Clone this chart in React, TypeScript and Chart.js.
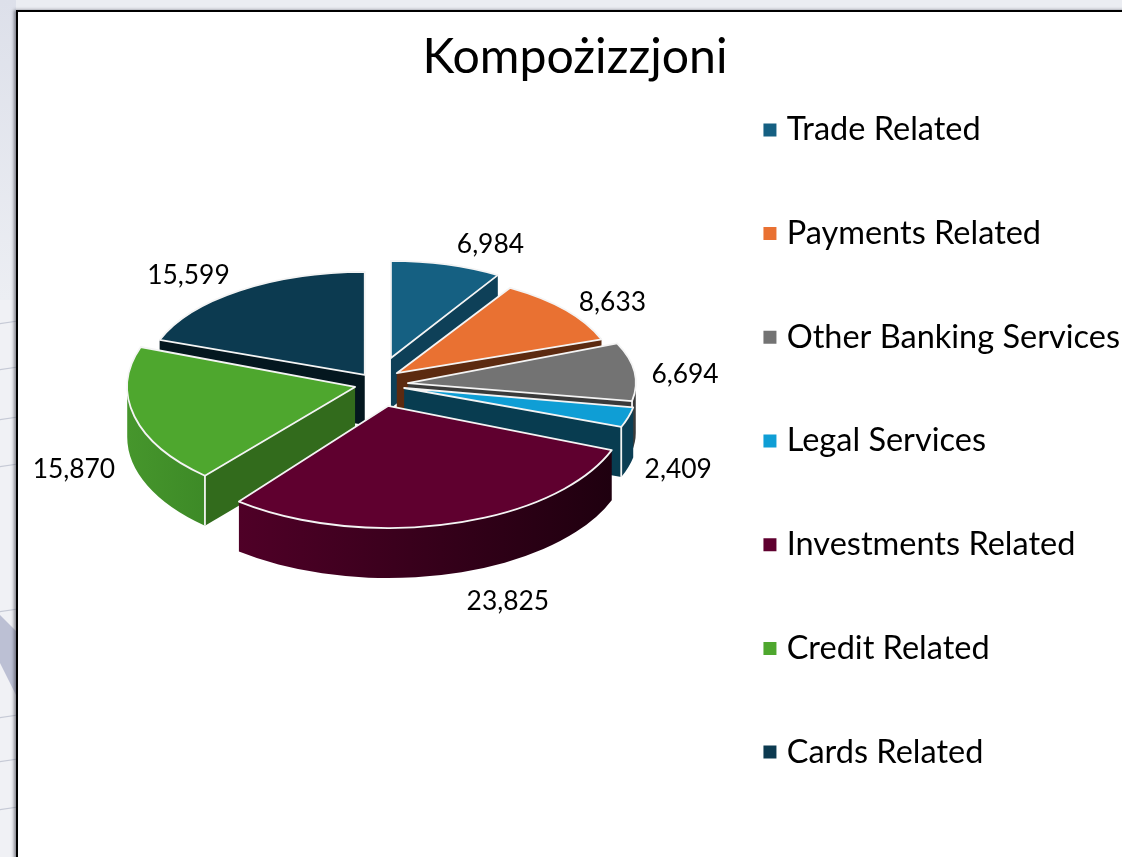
import React, { useEffect, useRef } from "react";
import { Chart, registerables } from "chart.js";

Chart.register(...registerables);

const chartTitle = "Kompożizzjoni";
const categories = ["Trade Related", "Payments Related", "Other Banking Services", "Legal Services", "Investments Related", "Credit Related", "Cards Related"];
const values = [6984, 8633, 6694, 2409, 23825, 15870, 15599];
const sliceColors = ["#156082", "#e97132", "#737373", "#0f9ed5", "#5f002f", "#4ea72e", "#0c3a50"];

// styling of the 3D look
const radialWall = ["#0e4058", "#5c2a10", "#3a3a3a", "#083c50", "#3a001c", "#326b1c", "#04171f"];
const outerWallLeft = ["#0e4058", "#5c2a10", "#3a3a3a", "#0b3e54", "#4f0027", "#46962c", "#04171f"];
const outerWallRight = ["#0e4058", "#5c2a10", "#3a3a3a", "#0b3e54", "#1f000f", "#3d8a27", "#04171f"];
const explode = [33, 19, 26, 23, 23, 28, 30];
const liftY = [0.82, 0.9, 0.46, 0.64, 0.99, 0.39, 0.37];
const stretchX = [0.895, 0.95, 0.995, 1.017, 1.048, 0.995, 0.952];
const stretchY = [0.424, 0.437, 0.437, 0.47, 0.533, 0.515, 0.45];
// small perspective correction of the drawn edge angles, degrees
const startWarp = [0, 0, -3.6, 0, 0, 2.8, 0];
const labelNudgeX = [44, 47, 50, 50, 57, -62, -51];
const labelNudgeY = [-20, -8, 0, 52, 78, 50, -15];
const backdropStreaks = [322, 368, 418, 465, 610, 716, 760, 808];
const PIE_RADIUS = 229;
const DEPTH = 50;
const CENTER_X = 382;
const CENTER_Y = 384;
const CANVAS_LEFT = 20;
const FONT = "Lato, Carlito, sans-serif";

const pie3d = {
  id: "pie3d",
  beforeDatasetDraw(chart: any) {
    const ctx = chart.ctx as CanvasRenderingContext2D;
    const meta = chart.getDatasetMeta(0);
    const area = chart.chartArea;
    const shiftX = CENTER_X - CANVAS_LEFT - (area.left + area.right) / 2;
    const shiftY = CENTER_Y - (area.top + area.bottom) / 2;
    const items = meta.data.map((arc: any, i: number) => {
      const p = arc.getProps(["x", "y", "startAngle", "endAngle", "outerRadius"], true);
      const mid = (p.startAngle + p.endAngle) / 2;
      const off = arc.options.offset || 0;
      return {
        i,
        mid,
        start: p.startAngle + (startWarp[i] * Math.PI) / 180,
        end: p.endAngle,
        ax: p.x + shiftX + Math.cos(mid) * off,
        ay: p.y + shiftY + Math.sin(mid) * off * liftY[i],
        rx: p.outerRadius * stretchX[i],
        ry: p.outerRadius * stretchY[i],
      };
    });
    const order = [...items].sort((a: any, b: any) => Math.sin(a.mid) - Math.sin(b.mid));
    ctx.save();
    ctx.lineJoin = "round";
    for (const s of order) {
      const rim = (a: number) => [s.ax + s.rx * Math.cos(a), s.ay + s.ry * Math.sin(a)];
      const radial = (a: number) => {
        const [x, y] = rim(a);
        ctx.beginPath();
        ctx.moveTo(s.ax, s.ay);
        ctx.lineTo(x, y);
        ctx.lineTo(x, y + DEPTH);
        ctx.lineTo(s.ax, s.ay + DEPTH);
        ctx.closePath();
        ctx.fillStyle = radialWall[s.i];
        ctx.fill();
      };
      if (Math.cos(s.start) < 0) radial(s.start);
      if (Math.cos(s.end) > 0) radial(s.end);
      const a0 = Math.max(s.start, 0);
      const a1 = Math.min(s.end, Math.PI);
      if (a1 > a0) {
        const g = ctx.createLinearGradient(rim(Math.max(a0, a1))[0], 0, rim(Math.min(a0, a1))[0], 0);
        g.addColorStop(0, outerWallLeft[s.i]);
        g.addColorStop(1, outerWallRight[s.i]);
        ctx.beginPath();
        ctx.ellipse(s.ax, s.ay, s.rx, s.ry, 0, a0, a1);
        ctx.ellipse(s.ax, s.ay + DEPTH, s.rx, s.ry, 0, a1, a0, true);
        ctx.closePath();
        ctx.fillStyle = g;
        ctx.fill();
      }
      ctx.strokeStyle = "#f4f4f4";
      ctx.lineWidth = 1.8;
      for (const a of [s.start, s.end]) {
        const wallShown = a === s.start ? Math.cos(a) < 0 : Math.cos(a) > 0;
        if (wallShown && Math.sin(a) > 0) {
          const [x, y] = rim(a);
          ctx.beginPath();
          ctx.moveTo(x, y);
          ctx.lineTo(x, y + DEPTH);
          ctx.stroke();
        }
      }
      ctx.beginPath();
      ctx.moveTo(s.ax, s.ay);
      ctx.ellipse(s.ax, s.ay, s.rx, s.ry, 0, s.start, s.end);
      ctx.closePath();
      ctx.fillStyle = sliceColors[s.i];
      ctx.fill();
      ctx.stroke();
    }
    ctx.fillStyle = "#000";
    ctx.font = `26.4px ${FONT}`;
    ctx.textAlign = "center";
    ctx.textBaseline = "middle";
    for (const s of items) {
      const x = s.ax + s.rx * Math.cos(s.mid) + labelNudgeX[s.i];
      const y = s.ay + s.ry * Math.sin(s.mid) + labelNudgeY[s.i];
      ctx.fillText(values[s.i].toLocaleString("en-US"), x, y);
    }
    ctx.restore();
    return false;
  },
};

export default function App() {
  const ref = useRef<HTMLCanvasElement>(null);
  useEffect(() => {
    const base = (Chart as any).overrides.pie.plugins.legend.labels.generateLabels;
    const chart = new Chart(ref.current as HTMLCanvasElement, {
      type: "pie",
      data: {
        labels: categories,
        datasets: [{ data: values, backgroundColor: sliceColors, borderWidth: 0, offset: explode, radius: PIE_RADIUS } as any],
      },
      options: {
        responsive: false,
        animation: false,
        layout: { padding: { bottom: 37 } },
        plugins: {
          tooltip: { enabled: false },
          title: {
            display: true,
            text: chartTitle,
            color: "#000",
            font: { family: FONT, size: 48.2, weight: "normal", lineHeight: 1.2 },
            padding: { top: 29, bottom: -29 },
          },
          legend: {
            position: "right",
            labels: {
              color: "#000",
              font: { family: FONT, size: 32.5 },
              boxWidth: 1,
              boxHeight: 1,
              padding: 71.2,
              generateLabels: (c: any) => base(c).map((it: any) => ({ ...it, strokeStyle: it.fillStyle, lineWidth: 12 })),
            },
          },
        },
      } as any,
      plugins: [pie3d],
    });
    return () => chart.destroy();
  }, []);
  return (
    <div style={{ position: "fixed", inset: 0, overflow: "hidden", background: "#f0f1f5" }}>
      <div style={{ position: "absolute", left: 0, top: 0, width: 1122, height: 10, background: "#ebedf2" }} />
      <div style={{ position: "absolute", left: 0, top: 0, width: 16, height: 300, background: "linear-gradient(180deg,#dde0ea,#eceef3)" }} />
      <div style={{ position: "absolute", left: 0, top: 615, width: 16, height: 80, background: "#bcc0d4", clipPath: "polygon(0 0,100% 20%,100% 100%,0 60%)" }} />
      {backdropStreaks.map((y) => (
        <div key={y} style={{ position: "absolute", left: -2, top: y, width: 20, height: 1, background: "#c6cad6", transform: "rotate(-8deg)" }} />
      ))}
      <div
        style={{
          position: "absolute",
          left: 16,
          top: 10,
          width: 1120,
          height: 860,
          background: "#fff",
          borderLeft: "2px solid #000",
          borderTop: "2px solid #000",
          boxShadow: "-2px 0 3px rgba(60,60,70,.6)",
        }}
      />
      <canvas ref={ref} width={1110} height={919} style={{ position: "absolute", left: CANVAS_LEFT, top: 0, display: "block" }} />
    </div>
  );
}
